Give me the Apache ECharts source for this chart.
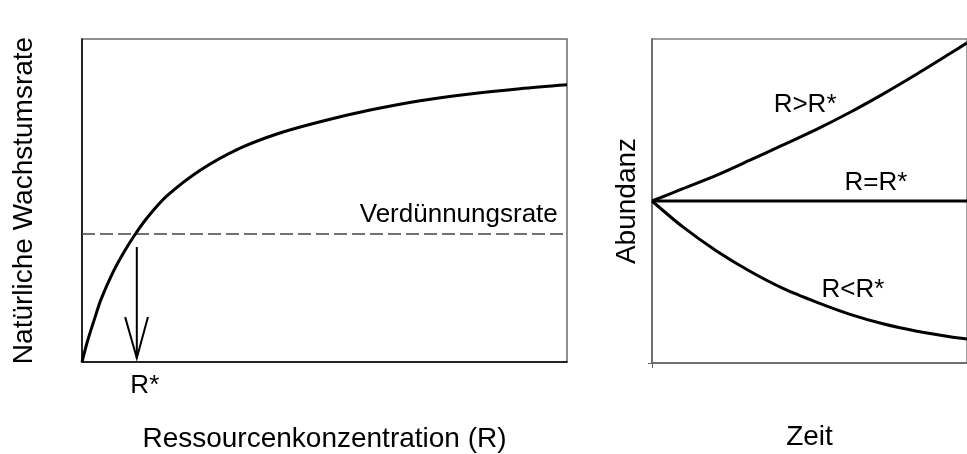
<!DOCTYPE html>
<html><head><meta charset="utf-8">
<script src="https://cdn.jsdelivr.net/npm/echarts@6/dist/echarts.min.js"></script>
<style>html,body{margin:0;padding:0;background:#fff}#c{width:967px;height:454px}</style>
</head><body><div id="c"></div>
<script>
// Left panel: natural growth rate vs resource concentration
const resource = [0, 1.2, 2.7, 3.9, 6.4, 8.7, 10.9, 13.4, 17.5, 24.3, 32.6, 40.8, 49.1, 59.4, 69.7, 80.0, 90.3, 100];
const growthRate = [0, 6.8, 13.9, 19.3, 27.8, 34.1, 39.4, 44.6, 51.4, 59.3, 66.2, 70.9, 74.4, 78.0, 80.9, 83.0, 84.6, 85.8];
const dilutionRate = 39.6;
const rStar = 11.3;
const arrowShaft = [[11.3, 35.6], [11.3, 1.2]];
const arrowHead = [[8.9, 13.9], [11.3, 1.2], [13.6, 13.9]];

// Right panel: abundance vs time
const time = [0, 9.8, 20.6, 31.1, 41.6, 52.4, 62.9, 73.3, 84.1, 94.6, 100];
const abundHigh = [50, 53.8, 58.0, 62.6, 67.3, 72.2, 77.4, 83.0, 89.2, 95.5, 98.8];
const abundEqual = [50, 50, 50, 50, 50, 50, 50, 50, 50, 50, 50];
const abundLow = [50, 42.0, 34.5, 28.3, 23.0, 18.7, 15.0, 12.1, 9.8, 8.1, 7.4];

// Text labels anchored in data coordinates
const leftLabels = [{ text: 'Verdünnungsrate', at: [98.1, 45.5] }];
const rightLabels = [
  { text: 'R>R*', at: [48.6, 79.6] },
  { text: 'R=R*', at: [71.1, 55.6] },
  { text: 'R<R*', at: [63.8, 22.5] }
];

const FONT = "'Liberation Sans', Arial, sans-serif";
const TITLE_SIZE = 28;
const LABEL_SIZE = 26;
const zip = (xs, ys) => xs.map((x, i) => [x, ys[i]]);

const chart = echarts.init(document.getElementById('c'), null, { renderer: 'canvas' });
const titleStyle = { fontSize: TITLE_SIZE, fontFamily: FONT, color: '#000' };
const labelItem = { color: 'rgba(0,0,0,0)', opacity: 1 };
const option = {
  animation: false,
  backgroundColor: '#fff',
  textStyle: { fontFamily: FONT, color: '#000' },
  grid: [
    { left: 82, top: 39, width: 485, height: 323, show: true, borderColor: '#6a6a6a', borderWidth: 1.5,
      containLabel: false, outerBoundsMode: 'none' },
    { left: 652, top: 39, width: 315, height: 324, show: true, borderColor: '#808080', borderWidth: 1.5,
      containLabel: false, outerBoundsMode: 'none' }
  ],
  xAxis: [
    { gridIndex: 0, type: 'value', min: 0, max: 100,
      axisLine: { show: true, lineStyle: { color: '#000', width: 1.5 } },
      axisTick: { show: false }, axisLabel: { show: false }, splitLine: { show: false },
      name: 'Ressourcenkonzentration (R)', nameLocation: 'middle', nameGap: 63, nameTextStyle: titleStyle },
    { gridIndex: 1, type: 'value', min: 0, max: 100,
      axisLine: { show: true, lineStyle: { color: '#606060', width: 1.5 } },
      axisTick: { show: true, customValues: [0], length: 5, lineStyle: { color: '#606060' } },
      axisLabel: { show: false }, splitLine: { show: false },
      name: 'Zeit', nameLocation: 'middle', nameGap: 60, nameTextStyle: titleStyle }
  ],
  yAxis: [
    { gridIndex: 0, type: 'value', min: 0, max: 100,
      axisLine: { show: true, lineStyle: { color: '#000', width: 1.5 } },
      axisTick: { show: false }, axisLabel: { show: false }, splitLine: { show: false },
      name: 'Natürliche Wachstumsrate', nameLocation: 'middle', nameGap: 44, nameRotate: 90, nameTextStyle: titleStyle },
    { gridIndex: 1, type: 'value', min: 0, max: 100,
      axisLine: { show: true, lineStyle: { color: '#606060', width: 1.5 } },
      axisTick: { show: true, customValues: [0], length: 4, lineStyle: { color: '#606060' } },
      axisLabel: { show: false }, splitLine: { show: false },
      name: 'Abundanz', nameLocation: 'middle', nameGap: 11, nameRotate: 90, nameTextStyle: titleStyle }
  ],
  series: [
    { type: 'line', xAxisIndex: 0, yAxisIndex: 0, data: [[0, dilutionRate], [100, dilutionRate]],
      symbol: 'none', lineStyle: { color: '#444', width: 1.5, type: [13, 5] }, z: 2 },
    { type: 'line', xAxisIndex: 0, yAxisIndex: 0, data: zip(resource, growthRate), smooth: 0.3,
      symbol: 'none', lineStyle: { color: '#000', width: 3 }, z: 3 },
    { type: 'line', xAxisIndex: 0, yAxisIndex: 0, data: arrowShaft,
      symbol: 'none', lineStyle: { color: '#000', width: 2 }, z: 3 },
    { type: 'line', xAxisIndex: 0, yAxisIndex: 0, data: arrowHead,
      symbol: 'none', lineStyle: { color: '#000', width: 2, join: 'miter' }, z: 3 },
    { type: 'scatter', xAxisIndex: 0, yAxisIndex: 0, clip: false, symbolSize: 1, itemStyle: labelItem,
      data: [[rStar, 0]],
      label: { show: true, position: 'bottom', distance: 10, offset: [8, 0], formatter: 'R*',
        fontSize: LABEL_SIZE, fontFamily: FONT, color: '#000', opacity: 1 } },
    { type: 'scatter', xAxisIndex: 0, yAxisIndex: 0, clip: false, symbolSize: 1, itemStyle: labelItem,
      data: leftLabels.map(l => ({ value: l.at, name: l.text })),
      label: { show: true, position: 'inside', align: 'right', verticalAlign: 'middle', formatter: '{b}',
        fontSize: LABEL_SIZE, fontFamily: FONT, color: '#000', opacity: 1 } },
    { type: 'line', xAxisIndex: 1, yAxisIndex: 1, data: zip(time, abundHigh), smooth: 0.3,
      symbol: 'none', lineStyle: { color: '#000', width: 3 }, z: 3 },
    { type: 'line', xAxisIndex: 1, yAxisIndex: 1, data: zip(time, abundEqual),
      symbol: 'none', lineStyle: { color: '#000', width: 3 }, z: 3 },
    { type: 'line', xAxisIndex: 1, yAxisIndex: 1, data: zip(time, abundLow), smooth: 0.3,
      symbol: 'none', lineStyle: { color: '#000', width: 3 }, z: 3 },
    { type: 'scatter', xAxisIndex: 1, yAxisIndex: 1, clip: false, symbolSize: 1, itemStyle: labelItem,
      data: rightLabels.map(l => ({ value: l.at, name: l.text })),
      label: { show: true, position: 'inside', align: 'center', verticalAlign: 'middle', formatter: '{b}',
        fontSize: LABEL_SIZE, fontFamily: FONT, color: '#000', opacity: 1 } }
  ]
};
chart.setOption(option);
</script>
</body></html>
